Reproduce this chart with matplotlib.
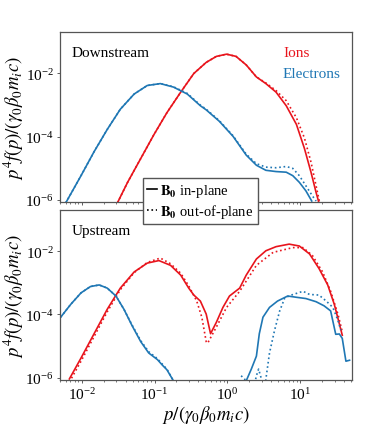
import numpy as np
import matplotlib
matplotlib.use("Agg")
import matplotlib.pyplot as plt
from matplotlib.lines import Line2D
from matplotlib.ticker import NullLocator

plt.rcParams['font.family'] = ['Liberation Serif', 'DejaVu Serif']
plt.rcParams['mathtext.fontset'] = 'stix'

RED = '#e8141c'
BLUE = '#1f77b4'

# log10 values
# downstream
dn_ion_x = [-1.51, -1.37, -1.19, -1.01, -0.83, -0.64, -0.46, -0.29, -0.15, -0.01, 0.12, 0.26, 0.40, 0.53, 0.67, 0.81, 0.95, 1.06, 1.15, 1.22, 1.26]
dn_ion_y = [-6.09, -5.44, -4.69, -3.94, -3.24, -2.59, -2.00, -1.65, -1.46, -1.39, -1.46, -1.73, -2.11, -2.32, -2.59, -3.02, -3.61, -4.37, -5.12, -5.76, -6.09]
dn_ion_dx = [-1.51, -1.37, -1.19, -1.01, -0.83, -0.64, -0.46, -0.29, -0.15, -0.01, 0.12, 0.26, 0.40, 0.53, 0.67, 0.81, 0.95, 1.06, 1.15, 1.22, 1.27]
dn_ion_dy = [-6.09, -5.44, -4.69, -3.94, -3.24, -2.59, -2.00, -1.65, -1.46, -1.39, -1.46, -1.73, -2.11, -2.30, -2.54, -2.86, -3.40, -4.04, -4.80, -5.55, -6.09]
dn_ele_x = [-2.22, -2.01, -1.83, -1.65, -1.47, -1.28, -1.10, -0.92, -0.74, -0.55, -0.37, -0.29, -0.11, 0.08, 0.26, 0.40, 0.53, 0.67, 0.81, 0.90, 0.99, 1.08, 1.16]
dn_ele_y = [-6.09, -5.23, -4.47, -3.77, -3.13, -2.65, -2.38, -2.32, -2.43, -2.65, -3.02, -3.15, -3.51, -3.99, -4.58, -4.90, -5.06, -5.10, -5.12, -5.23, -5.44, -5.71, -6.03]
dn_ele_dx = [-2.22, -2.01, -1.83, -1.65, -1.47, -1.28, -1.10, -0.92, -0.74, -0.55, -0.37, -0.29, -0.11, 0.08, 0.26, 0.40, 0.53, 0.67, 0.81, 0.90, 0.99, 1.08, 1.17, 1.22]
dn_ele_dy = [-6.09, -5.23, -4.47, -3.77, -3.13, -2.65, -2.38, -2.32, -2.42, -2.63, -3.00, -3.13, -3.49, -3.97, -4.55, -4.85, -4.96, -4.98, -4.94, -5.00, -5.23, -5.55, -5.87, -6.03]

# upstream
up_ion_x = [-2.17, -2.01, -1.83, -1.65, -1.47, -1.28, -1.10, -0.94, -0.78, -0.64, -0.53, -0.46, -0.37, -0.29, -0.23,
            -0.15, -0.06, 0.03, 0.17, 0.26, 0.40, 0.53, 0.67, 0.85, 0.99, 1.13, 1.26, 1.38, 1.47, 1.54, 1.58]
up_ion_y = [-6.04, -5.38, -4.61, -3.84, -3.17, -2.66, -2.38, -2.30, -2.45, -2.76, -3.17, -3.39, -3.58, -3.99, -4.61,
            -4.25, -3.78, -3.42, -3.17, -2.76, -2.25, -1.99, -1.86, -1.78, -1.84, -2.09, -2.55, -3.07, -3.68, -4.30, -4.66]
up_ion_dx = [-2.17, -2.01, -1.83, -1.65, -1.47, -1.28, -1.10, -0.92, -0.78, -0.64, -0.53, -0.42, -0.35, -0.29, -0.27,
             -0.15, -0.01, 0.17, 0.40, 0.63, 0.90, 1.04, 1.17, 1.31, 1.42, 1.52, 1.58]
up_ion_dy = [-6.14, -5.48, -4.70, -3.92, -3.22, -2.68, -2.36, -2.22, -2.40, -2.70, -3.10, -3.58, -4.09, -4.86, -4.91,
             -4.40, -3.78, -3.27, -2.45, -2.04, -1.89, -1.89, -2.14, -2.66, -3.27, -3.99, -4.55]
# electrons: thermal part (low p) and accelerated part (high p)
up_ele_lo_x = [-2.29, -2.15, -2.01, -1.88, -1.76, -1.65, -1.53, -1.42, -1.31, -1.19, -1.08, -0.96, -0.89, -0.83, -0.74]
up_ele_lo_y = [-4.09, -3.68, -3.32, -3.12, -3.07, -3.17, -3.42, -3.84, -4.35, -4.86, -5.22, -5.43, -5.61, -5.75, -6.10]
up_ele_lo_dy = [-4.09, -3.68, -3.32, -3.12, -3.07, -3.17, -3.42, -3.84, -4.33, -4.83, -5.18, -5.40, -5.58, -5.73, -6.10]
up_ele_hi_x = [0.26, 0.33, 0.40, 0.44, 0.49, 0.58, 0.69, 0.83, 0.95, 1.08, 1.22, 1.33, 1.42, 1.49, 1.54, 1.58, 1.63, 1.68]
up_ele_hi_y = [-6.10, -5.73, -5.32, -4.61, -4.09, -3.78, -3.58, -3.42, -3.46, -3.50, -3.60, -3.73, -3.89, -4.63, -4.62, -4.76, -5.48, -5.45]
up_ele_hi_dx = [0.19, 0.24, 0.30, 0.40, 0.43, 0.47, 0.50, 0.53, 0.58, 0.65, 0.72, 0.79, 0.88, 1.04, 1.13, 1.26, 1.36, 1.45, 1.52, 1.56]
up_ele_hi_dy = [-5.94, -6.05, -7.0, -5.94, -5.73, -6.05, -7.0, -6.05, -5.22, -4.50, -3.89, -3.48, -3.39, -3.27, -3.37, -3.39, -3.58, -3.78, -4.19, -4.50]

fig, (ax1, ax2) = plt.subplots(2, 1, figsize=(3.74, 4.27), dpi=100, sharex=True)
fig.subplots_adjust(left=0.16, right=0.94, top=0.922, bottom=0.108, hspace=0.045)

def curve(ax, lx, ly, color, ls):
    ax.plot(10 ** np.array(lx), 10 ** np.array(ly), color=color, ls=ls, lw=1.2)

curve(ax1, dn_ion_dx, dn_ion_dy, RED, ':')
curve(ax1, dn_ion_x, dn_ion_y, RED, '-')
curve(ax1, dn_ele_dx, dn_ele_dy, BLUE, ':')
curve(ax1, dn_ele_x, dn_ele_y, BLUE, '-')
curve(ax2, up_ion_dx, up_ion_dy, RED, ':')
curve(ax2, up_ion_x, up_ion_y, RED, '-')
curve(ax2, up_ele_lo_x, up_ele_lo_dy, BLUE, ':')
curve(ax2, up_ele_lo_x, up_ele_lo_y, BLUE, '-')
curve(ax2, up_ele_hi_dx, up_ele_hi_dy, BLUE, ':')
curve(ax2, up_ele_hi_x, up_ele_hi_y, BLUE, '-')

ylab = r'$p^4 f(p)/(\gamma_0\beta_0 m_i c)$'
for ax in (ax1, ax2):
    ax.set_xscale('log')
    ax.set_yscale('log')
    ax.set_xlim(5e-3, 51)
    ax.set_ylim(8.5e-7, 0.2)
    ax.set_yticks([1e-6, 1e-4, 1e-2])
    ax.yaxis.set_minor_locator(NullLocator())
    ax.set_ylabel(ylab, fontsize=13.5)
    ax.yaxis.set_label_coords(-0.115, 0.5)
    ax.tick_params(labelsize=11, length=2.5, width=0.6, color='#444444', pad=2)
    ax.tick_params(which='minor', length=1.5, width=0.5, color='#444444')
    for s in ax.spines.values():
        s.set_color('#555555')
        s.set_linewidth(0.9)
ax2.set_xlabel(r'$p/(\gamma_0\beta_0 m_i c)$', fontsize=13.5, labelpad=1)

ax1.text(0.04, 0.92, 'Downstream', transform=ax1.transAxes, fontsize=11, va='top')
ax2.text(0.04, 0.92, 'Upstream', transform=ax2.transAxes, fontsize=11, va='top')
ax1.text(0.765, 0.88, 'Ions', transform=ax1.transAxes, fontsize=11, color=RED, va='center', ha='left')
ax1.text(0.765, 0.755, 'Electrons', transform=ax1.transAxes, fontsize=11, color=BLUE, va='center', ha='left')

handles = [Line2D([], [], color='black', ls='-', lw=1.2),
           Line2D([], [], color='black', ls=':', lw=1.2)]
leg = fig.legend(handles, [r'$\mathbf{B_0}$ in-plane', r'$\mathbf{B_0}$ out-of-plane'],
                 loc='center', bbox_to_anchor=(0.535, 0.527), fontsize=10.5,
                 handlelength=0.7, handletextpad=0.2, borderpad=0.3, labelspacing=0.2,
                 fancybox=False, framealpha=1, edgecolor='#555555')
leg.set_zorder(10)

fig.savefig('out.png', dpi=100)
